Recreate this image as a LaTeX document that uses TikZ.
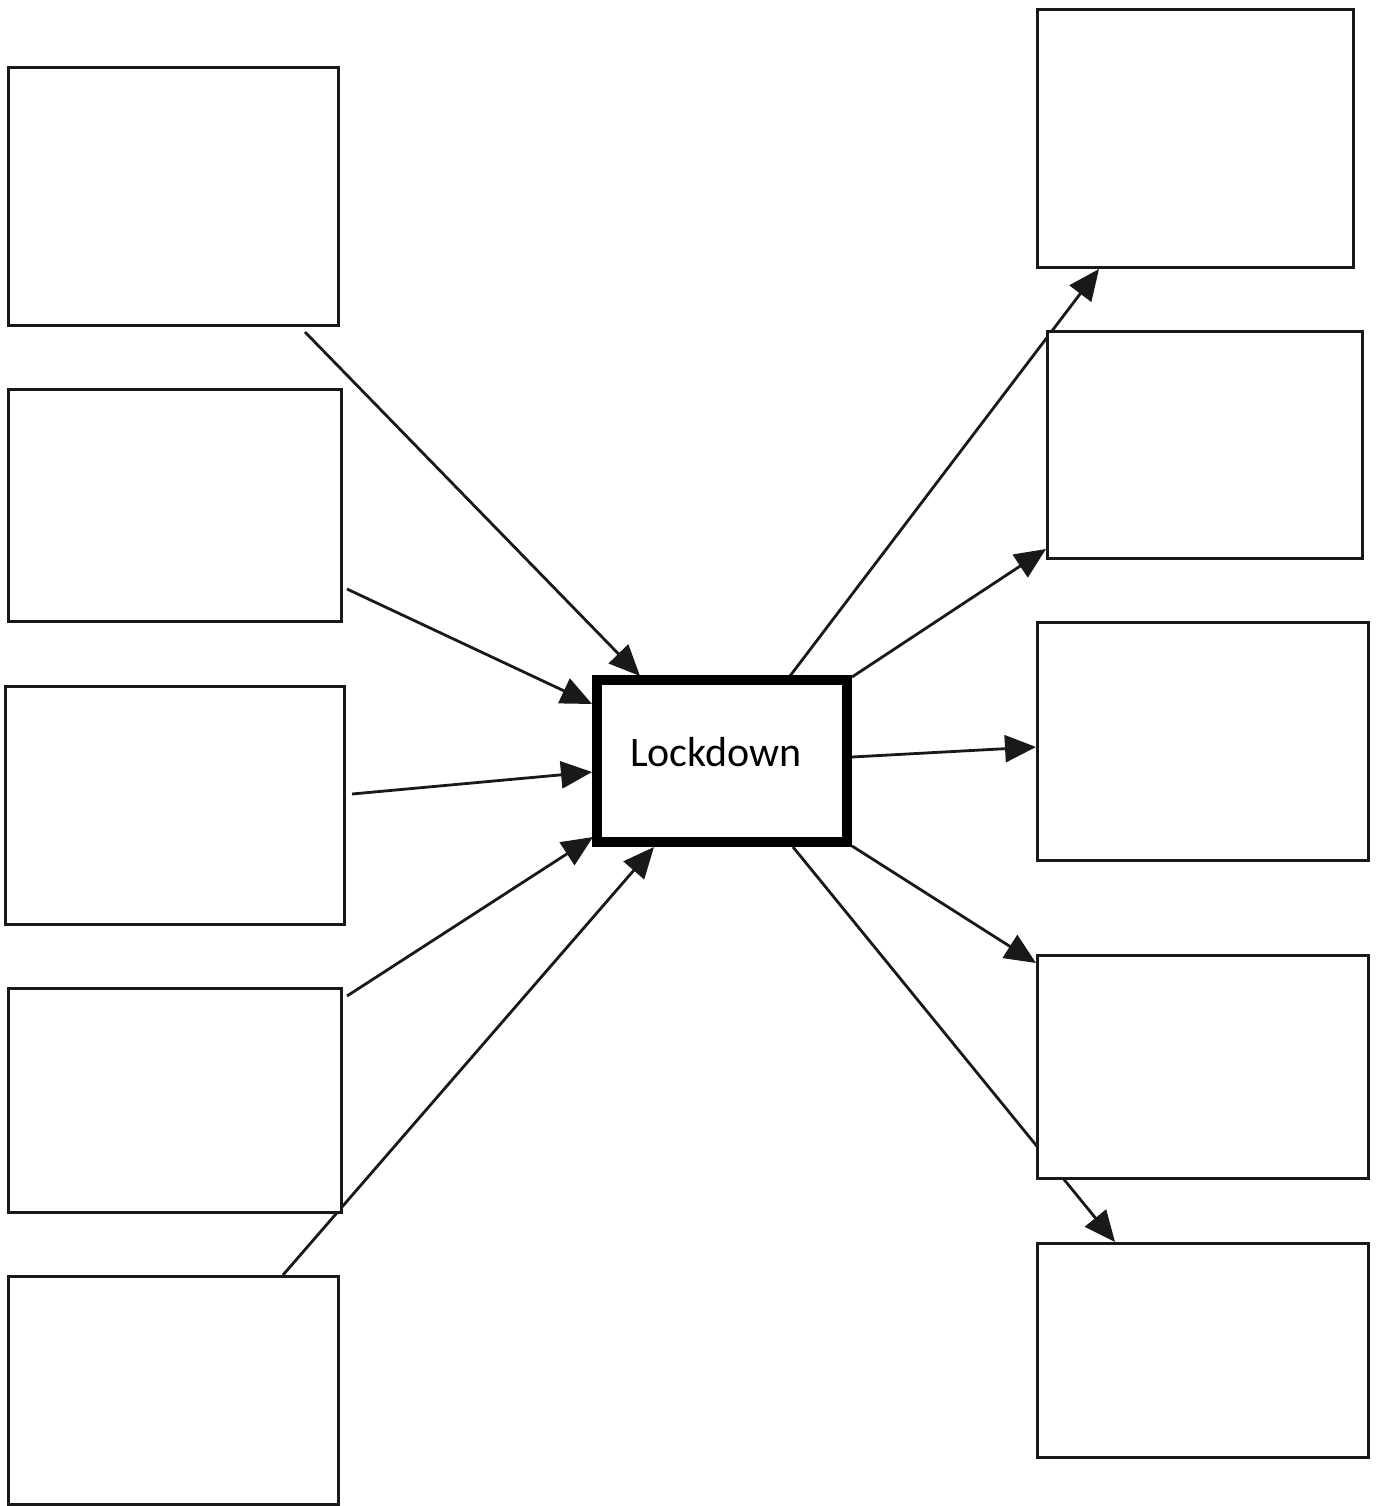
\documentclass[tikz,border=0pt]{standalone}
\usepackage{fontspec}
\setmainfont{Carlito}
\usetikzlibrary{arrows.meta,calc,backgrounds}
\begin{document}
\begin{tikzpicture}[x=1pt,y=-1pt,
  box/.style={draw=black!90, line width=3pt, fill=white, inner sep=0pt, outer sep=0pt},
  hub/.style={draw=black, line width=10pt, fill=white, inner sep=0pt, outer sep=0pt, minimum width=250pt, minimum height=162pt},
  lbl/.style={font=\fontsize{42}{50}\selectfont, inner sep=0pt, xshift=-6pt, yshift=9pt},
  conn/.style={line width=2.8pt, draw=black!90, -{Triangle[length=31pt,width=27pt]}}]
% left boxes
\node[box, minimum width=330pt, minimum height=257pt] (L1) at (173,196.5) {};
\node[box, minimum width=333pt, minimum height=232pt] (L2) at (174.5,505) {};
\node[box, minimum width=339pt, minimum height=238pt] (L3) at (174.5,805) {};
\node[box, minimum width=333pt, minimum height=224pt] (L4) at (174.5,1100) {};
\node[box, minimum width=330pt, minimum height=228pt] (L5) at (173,1390) {};
% right boxes
\node[box, minimum width=316pt, minimum height=257pt] (R1) at (1195,138.5) {};
\node[box, minimum width=315pt, minimum height=227pt] (R2) at (1204.5,444.5) {};
\node[box, minimum width=331pt, minimum height=238pt] (R3) at (1202.5,741) {};
\node[box, minimum width=331pt, minimum height=223pt] (R4) at (1202.5,1066.5) {};
\node[box, minimum width=331pt, minimum height=214pt] (R5) at (1202.5,1350) {};
% hub
\node[hub, label={[lbl]center:Lockdown}] (C) at (722,761) {};
\begin{pgfonlayer}{background}
\path[use as bounding box, fill=white] (0,0) rectangle (1377,1506);
\draw[conn] ($(L1.south)+(132,7)$) -- ($(C.north)+(-82,-4)$);
\draw[conn] ($(L2.east)+(6,84)$) -- ($(C.west)+(-5,-57)$);
\draw[conn] ($(L3.east)+(8,-11)$) -- ($(C.west)+(-5,11)$);
\draw[conn] ($(L4.north east)+(6,8)$) -- ($(C.south west)+(-4,-5)$);
\draw[conn] ($(L5.north)+(110,-1)$) -- ($(C.south)+(-68,5)$);
\draw[conn] ($(C.north)+(68,-4)$) -- ($(R1.south)+(-96,2)$);
\draw[conn] ($(C.north east)+(5,-3)$) -- ($(R2.south west)+(-1,-9)$);
\draw[conn] ($(C.east)+(5,-4)$) -- ($(R3.west)+(-1,6)$);
\draw[conn] ($(C.south east)+(5,4)$) -- ($(R4.north west)+(-1,8)$);
\draw[conn] ($(C.south)+(71,5)$) -- ($(R5.north)+(-87.5,-1)$);
\end{pgfonlayer}
\end{tikzpicture}
\end{document}
